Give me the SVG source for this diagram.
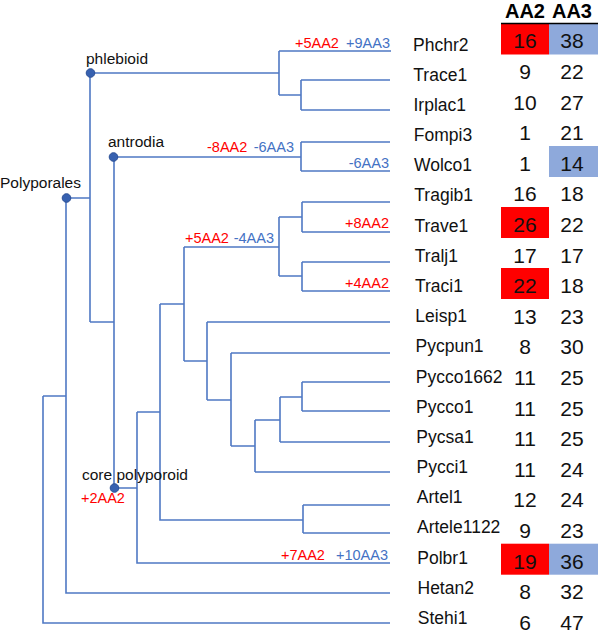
<svg xmlns="http://www.w3.org/2000/svg" width="598" height="637" viewBox="0 0 598 637">
<style>
.ln{fill:none;stroke:#4F78C4;stroke-width:1.6}
.dot{fill:#3761B0;stroke:#2B4F96;stroke-width:1}
.nl{font-family:"Liberation Sans",Arial,sans-serif;font-size:15.5px;fill:#111}
.lf{font-family:"Liberation Sans",Arial,sans-serif;font-size:17.5px;fill:#111}
.num{font-family:"Liberation Sans",Arial,sans-serif;font-size:21px;fill:#111;text-anchor:middle}
.hd{font-family:"Liberation Sans",Arial,sans-serif;font-size:20px;font-weight:bold;fill:#000;text-anchor:middle}
.r{font-family:"Liberation Sans",Arial,sans-serif;font-size:14.5px;fill:#FF0000}
.b{font-family:"Liberation Sans",Arial,sans-serif;font-size:14.5px;fill:#4472C4}
.e{text-anchor:end}
.rb{fill:#FF0000}
.bb{fill:#8EA9DB}
</style>
<rect width="598" height="637" fill="#fff"/>
<g id="connectors" class="ln">
<path d="M43 396V623H390M43 396H66M66 198V593H390M66 198H90M90 73V322M90 73H279M279 51V95M279 51H391M279 95H301M301 80V110M301 80H390M301 110H390"/>
<path d="M90 322H114M114 157V488M114 157H301M301 142V171M301 142H390M301 171H390"/>
<path d="M114 488H137M137 412V563H390M137 412H160M160 304V520H303M303 505V533M303 505H390M303 533H390"/>
<path d="M160 304H184M184 247V361M184 247H279M279 217V276M279 217H302M279 276H302M302 202V232M302 202H390M302 232H390M302 262V291M302 262H390M302 291H390"/>
<path d="M184 361H207M207 322V400M207 322H390M207 400H231M231 353V446M231 353H390M231 446H255M255 420V472M255 472H390M255 420H280M280 397V442M280 442H390M280 397H302M302 382V411M302 382H390M302 411H390"/>
</g>
<g id="branch-labels">
<text class="r" x="295" y="48">+5AA2</text><text class="b e" x="390" y="48">+9AA3</text>
<text class="r" x="207" y="152">-8AA2</text><text class="b e" x="294" y="152">-6AA3</text>
<text class="b e" x="389" y="168">-6AA3</text>
<text class="r e" x="389" y="228">+8AA2</text>
<text class="r e" x="389" y="288">+4AA2</text>
<text class="r" x="185" y="243">+5AA2</text><text class="b e" x="274" y="243">-4AA3</text>
<text class="r" x="281" y="560">+7AA2</text><text class="b e" x="388" y="560">+10AA3</text>
</g>
<g id="node-polyporales"><circle class="dot" cx="66.5" cy="198" r="4.3"/><text class="nl" x="0" y="188">Polyporales</text></g>
<g id="node-phlebioid"><circle class="dot" cx="90.5" cy="73" r="4.3"/><text class="nl" x="86" y="64">phlebioid</text></g>
<g id="node-antrodia"><circle class="dot" cx="113.5" cy="157" r="4.3"/><text class="nl" x="108" y="147">antrodia</text></g>
<g id="node-core"><text class="nl" x="82" y="480">core polyporoid</text><circle class="dot" cx="114.5" cy="488" r="4.3"/><text class="r" x="81" y="503">+2AA2</text></g>
<g id="header">
<text class="hd" x="525" y="17.5">AA2</text><text class="hd" x="572" y="17.5">AA3</text>
</g>
<g id="boxes">
<rect class="rb" x="501" y="23.5" width="48" height="31"/><rect class="bb" x="549" y="23.5" width="49" height="31"/>
<rect class="bb" x="549" y="146" width="49" height="31"/>
<rect class="rb" x="501" y="207" width="48" height="31"/>
<rect class="rb" x="501" y="268" width="48" height="31"/>
<rect class="rb" x="501" y="543.7" width="48" height="31"/><rect class="bb" x="549" y="543.7" width="49" height="31"/>
</g>
<line x1="501" y1="23.5" x2="598" y2="23.5" stroke="#000" stroke-width="1.5"/>
<g id="leaf-Phchr2"><text class="lf" x="413" y="50.5">Phchr2</text><text class="num" x="525" y="48.3">16</text><text class="num" x="572" y="48.3">38</text></g>
<g id="leaf-Trace1"><text class="lf" x="413.3" y="80.7">Trace1</text><text class="num" x="525" y="78.9">9</text><text class="num" x="572" y="78.9">22</text></g>
<g id="leaf-Irplac1"><text class="lf" x="413.5" y="110.9">Irplac1</text><text class="num" x="525" y="109.5">10</text><text class="num" x="572" y="109.5">27</text></g>
<g id="leaf-Fompi3"><text class="lf" x="413.8" y="141">Fompi3</text><text class="num" x="525" y="140.1">1</text><text class="num" x="572" y="140.1">21</text></g>
<g id="leaf-Wolco1"><text class="lf" x="414" y="171.2">Wolco1</text><text class="num" x="525" y="170.7">1</text><text class="num" x="572" y="170.7">14</text></g>
<g id="leaf-Tragib1"><text class="lf" x="414.3" y="201.4">Tragib1</text><text class="num" x="525" y="201.3">16</text><text class="num" x="572" y="201.3">18</text></g>
<g id="leaf-Trave1"><text class="lf" x="414.5" y="231.6">Trave1</text><text class="num" x="525" y="231.9">26</text><text class="num" x="572" y="231.9">22</text></g>
<g id="leaf-Tralj1"><text class="lf" x="414.8" y="261.8">Tralj1</text><text class="num" x="525" y="262.5">17</text><text class="num" x="572" y="262.5">17</text></g>
<g id="leaf-Traci1"><text class="lf" x="415" y="291.9">Traci1</text><text class="num" x="525" y="293.1">22</text><text class="num" x="572" y="293.1">18</text></g>
<g id="leaf-Leisp1"><text class="lf" x="415.3" y="322.1">Leisp1</text><text class="num" x="525" y="323.7">13</text><text class="num" x="572" y="323.7">23</text></g>
<g id="leaf-Pycpun1"><text class="lf" x="415.5" y="352.3">Pycpun1</text><text class="num" x="525" y="354.3">8</text><text class="num" x="572" y="354.3">30</text></g>
<g id="leaf-Pycco1662"><text class="lf" x="415.8" y="382.5">Pycco1662</text><text class="num" x="525" y="384.9">11</text><text class="num" x="572" y="384.9">25</text></g>
<g id="leaf-Pycco1"><text class="lf" x="416" y="412.7">Pycco1</text><text class="num" x="525" y="415.5">11</text><text class="num" x="572" y="415.5">25</text></g>
<g id="leaf-Pycsa1"><text class="lf" x="416.3" y="442.8">Pycsa1</text><text class="num" x="525" y="446.1">11</text><text class="num" x="572" y="446.1">25</text></g>
<g id="leaf-Pycci1"><text class="lf" x="416.5" y="473">Pycci1</text><text class="num" x="525" y="476.7">11</text><text class="num" x="572" y="476.7">24</text></g>
<g id="leaf-Artel1"><text class="lf" x="416.8" y="503.2">Artel1</text><text class="num" x="525" y="507.3">12</text><text class="num" x="572" y="507.3">24</text></g>
<g id="leaf-Artele1122"><text class="lf" x="417" y="533.4">Artele1122</text><text class="num" x="525" y="537.9">9</text><text class="num" x="572" y="537.9">23</text></g>
<g id="leaf-Polbr1"><text class="lf" x="417.3" y="563.6">Polbr1</text><text class="num" x="525" y="568.5">19</text><text class="num" x="572" y="568.5">36</text></g>
<g id="leaf-Hetan2"><text class="lf" x="417.5" y="593.7">Hetan2</text><text class="num" x="525" y="599.1">8</text><text class="num" x="572" y="599.1">32</text></g>
<g id="leaf-Stehi1"><text class="lf" x="417.8" y="623.9">Stehi1</text><text class="num" x="525" y="629.7">6</text><text class="num" x="572" y="629.7">47</text></g>
</svg>
